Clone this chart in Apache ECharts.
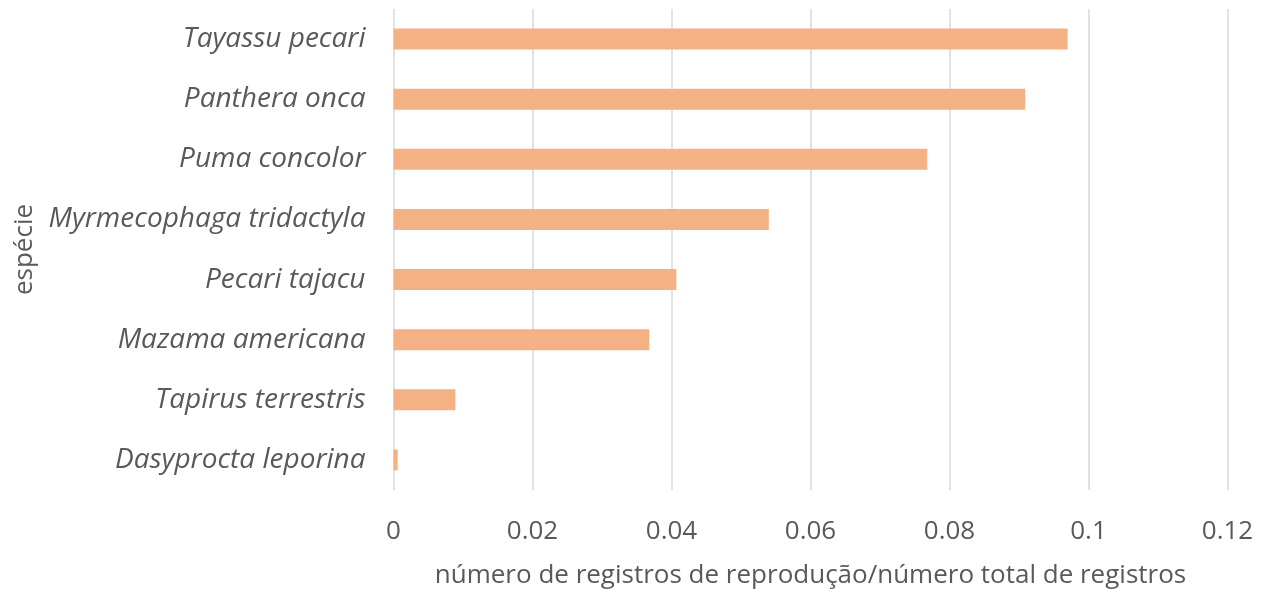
<!DOCTYPE html>
<html>
<head>
<meta charset="utf-8">
<script src="https://cdn.jsdelivr.net/npm/echarts@6/dist/echarts.min.js"></script>
<style>
  html, body { margin: 0; padding: 0; background: #fff; }
  #chart { width: 1270px; height: 589px; }
</style>
</head>
<body>
<div id="chart"></div>
<script>
// Species, listed top to bottom
const species = [
  'Tayassu pecari',
  'Panthera onca',
  'Puma concolor',
  'Myrmecophaga tridactyla',
  'Pecari tajacu',
  'Mazama americana',
  'Tapirus terrestris',
  'Dasyprocta leporina'
];
// Reproduction records / total records
const ratio = [0.0970, 0.0909, 0.0768, 0.0540, 0.0407, 0.0368, 0.0089, 0.0006];
const xTicks = { min: 0, max: 0.12, step: 0.02 };

const textColor = '#595959';
const fontFamily = '"Open Sans", "Noto Sans", sans-serif';

const chart = echarts.init(document.getElementById('chart'), null, { renderer: 'canvas' });
chart.setOption({
  animation: false,
  grid: {
    left: 393.5, right: 42.5, top: 9, bottom: 99,
    containLabel: false, outerBoundsMode: 'none'
  },
  xAxis: {
    type: 'value',
    min: xTicks.min,
    max: xTicks.max,
    interval: xTicks.step,
    name: 'número de registros de reprodução/número total de registros',
    nameLocation: 'middle',
    nameGap: 73,
    nameTextStyle: { color: textColor, fontSize: 26, fontFamily },
    axisLine: { show: false },
    axisTick: { show: false },
    axisLabel: {
      color: textColor, fontSize: 26, fontFamily, margin: 29,
      formatter: v => String(Math.round(v * 100) / 100)
    },
    splitLine: { show: true, lineStyle: { color: '#D9D9D9', width: 1.5 } }
  },
  yAxis: {
    type: 'category',
    data: species,
    inverse: true,
    name: 'espécie',
    nameLocation: 'middle',
    nameGap: 356,
    nameRotate: 90,
    nameTextStyle: { color: textColor, fontSize: 26, fontFamily },
    axisLine: { show: false },
    axisTick: { show: false },
    axisLabel: {
      color: textColor, fontSize: 28, fontFamily, fontStyle: 'italic', margin: 28
    }
  },
  series: [{
    type: 'bar',
    data: ratio,
    barWidth: 21,
    itemStyle: { color: '#F4B183' }
  }]
});
</script>
</body>
</html>
